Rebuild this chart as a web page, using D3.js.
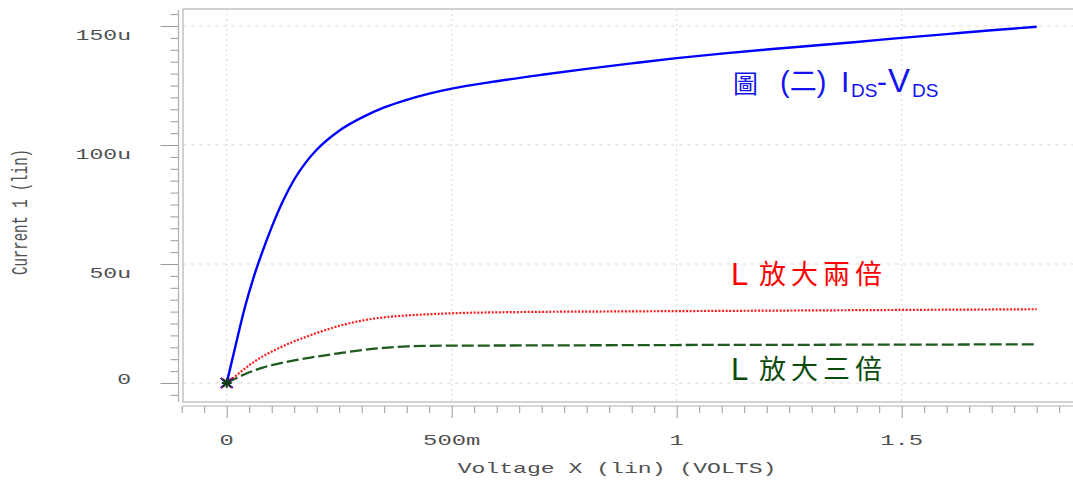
<!DOCTYPE html>
<html><head><meta charset="utf-8">
<script src="https://cdn.jsdelivr.net/npm/d3@7"></script>
<style>
html,body{margin:0;padding:0;background:#fff;}
svg{display:block;}
</style></head>
<body>
<svg id="chart" width="1073" height="482"></svg>
<script>
// ---- data ----
const voltage = [0, 0.02, 0.04, 0.06, 0.08, 0.1, 0.125, 0.15, 0.175, 0.2, 0.25, 0.3, 0.35, 0.4, 0.45, 0.5, 0.6, 0.7, 0.8, 0.9, 1.0, 1.1, 1.2, 1.3, 1.4, 1.5, 1.6, 1.7, 1.8];
const idsBase = [0, 16, 31.5, 44.5, 55.5, 65.5, 76.5, 85.5, 92.5, 98, 106, 111.5, 115.8, 119, 121.6, 123.7, 126.8, 129.5, 132, 134.3, 136.5, 138.4, 140.1, 141.7, 143.3, 145, 146.6, 148.2, 149.7];
const idsL2 = [0, 3, 6, 8.8, 11.2, 13.2, 15.5, 17.5, 19.3, 21, 24, 26.2, 27.6, 28.4, 28.9, 29.3, 29.7, 29.9, 30.0, 30.1, 30.2, 30.3, 30.4, 30.5, 30.6, 30.7, 30.8, 30.9, 31.0];
const idsL3 = [0, 1.9, 3.7, 5.2, 6.5, 7.5, 8.6, 9.5, 10.3, 11.1, 12.5, 13.8, 14.8, 15.4, 15.6, 15.7, 15.75, 15.8, 15.85, 15.9, 15.95, 16.0, 16.0, 16.05, 16.1, 16.1, 16.15, 16.2, 16.2];
const xTickValues = [0, 0.5, 1, 1.5];
const xTickLabels = ["0", "500m", "1", "1.5"];
const yTickValues = [0, 50, 100, 150];
const yTickLabels = ["0", "50u", "100u", "150u"];
const xTitle = "Voltage X (lin) (VOLTS)";
const yTitle = "Current 1 (lin)";

const svg = d3.select("#chart");
const x = d3.scaleLinear().domain([0, 1.8]).range([226.7, 1036.7]);
const y = d3.scaleLinear().domain([0, 150]).range([383, 26]);

const frameL = 183, frameT = 9, frameB = 402, frameR = 1080;
const monoFont = "'Liberation Mono', 'DejaVu Sans Mono', monospace";
const txtCol = "#505050";
const SX = 1.54;

// grid
const grid = svg.append("g");
grid.selectAll("line.v").data(xTickValues).join("line")
  .attr("x1", d => x(d)).attr("x2", d => x(d))
  .attr("y1", frameT).attr("y2", frameB)
  .attr("stroke", "#d8d8d8").attr("stroke-width", 1).attr("stroke-dasharray", "2,3");
grid.selectAll("line.h").data(yTickValues).join("line")
  .attr("x1", frameL).attr("x2", frameR)
  .attr("y1", d => y(d)).attr("y2", d => y(d))
  .attr("stroke", "#dcdcdc").attr("stroke-width", 1).attr("stroke-dasharray", "4,4");

// frame
svg.append("path")
  .attr("d", `M${frameR},${frameT}H${frameL}V${frameB}H${frameR}`)
  .attr("fill", "none").attr("stroke", "#c4c4c4").attr("stroke-width", 1.5);

// y axis with minor ticks
const yAxisX = 178.5;
const yAxis = d3.axisLeft(y).tickValues(d3.range(-5, 156, 5)).tickFormat("").tickSizeOuter(0)
  .tickSize(8);
const gy = svg.append("g").attr("transform", `translate(${yAxisX},0)`).call(yAxis);
gy.select(".domain").remove();
gy.selectAll(".tick line").attr("stroke", "#9a9a9a").attr("stroke-width", 1)
  .attr("x2", d => (d % 50 === 0 ? -18 : -8));
svg.append("line").attr("x1", yAxisX).attr("x2", yAxisX).attr("y1", 10).attr("y2", frameB)
  .attr("stroke", "#b0b0b0").attr("stroke-width", 1.2);

// x axis with minor ticks
const xAxisY = 406;
const xMinor = d3.range(-2, 39).map(i => i * 0.05);
const xAxis = d3.axisBottom(x).tickValues(xMinor).tickFormat("").tickSizeOuter(0).tickSize(7);
const gx = svg.append("g").attr("transform", `translate(0,${xAxisY})`).call(xAxis);
gx.select(".domain").remove();
gx.selectAll(".tick line").attr("stroke", "#9a9a9a").attr("stroke-width", 1)
  .attr("y2", d => (Math.abs(d * 2 - Math.round(d * 2)) < 1e-6 ? 12 : 7));
svg.append("line").attr("x1", frameL).attr("x2", frameR).attr("y1", xAxisY).attr("y2", xAxisY)
  .attr("stroke", "#b0b0b0").attr("stroke-width", 1.2);

// tick labels (monospace, horizontally stretched)
svg.selectAll("g.ylab").data(yTickValues).join("g")
  .attr("transform", (d) => `translate(131,${y(d) + (d === 0 ? 1 : 13.5)}) scale(${SX},1)`)
  .append("text")
  .attr("text-anchor", "end").attr("font-family", monoFont).attr("font-size", 15)
  .attr("fill", txtCol).text((d, i) => yTickLabels[i]);

svg.selectAll("g.xlab").data(xTickValues).join("g")
  .attr("transform", d => `translate(${x(d)},445) scale(${SX},1)`)
  .append("text")
  .attr("text-anchor", "middle").attr("font-family", monoFont).attr("font-size", 15.5)
  .attr("fill", txtCol).text((d, i) => xTickLabels[i]);

svg.append("g").attr("transform", `translate(617,473) scale(${SX},1)`)
  .append("text").attr("text-anchor", "middle").attr("font-family", monoFont)
  .attr("font-size", 15).attr("fill", txtCol).text(xTitle);

svg.append("g").attr("transform", `translate(27,212) scale(${SX},1) rotate(-90)`)
  .append("text").attr("text-anchor", "middle").attr("font-family", monoFont)
  .attr("font-size", 14).attr("fill", txtCol).text(yTitle);

// curves
const line = d3.line().x(d => x(d[0])).y(d => y(d[1])).curve(d3.curveMonotoneX);
const zip = arr => voltage.map((v, i) => [v, arr[i]]);
svg.append("path").datum(zip(idsL3)).attr("d", line)
  .attr("fill", "none").attr("stroke", "#1f5a1f").attr("stroke-width", 2.3)
  .attr("stroke-dasharray", "12,4");
svg.append("path").datum(zip(idsL2)).attr("d", line)
  .attr("fill", "none").attr("stroke", "#ff1a1a").attr("stroke-width", 2.2)
  .attr("stroke-dasharray", "2,1.6");
svg.append("path").datum(zip(idsBase)).attr("d", line)
  .attr("fill", "none").attr("stroke", "#0000ff").attr("stroke-width", 2.4);

// origin markers
const ox = x(voltage[0]);
const mk = svg.append("g");
const oyB = y(idsBase[0]), oyR = y(idsL2[0]), oyG = y(idsL3[0]);
mk.append("path").attr("d", `M${ox-6},${oyB-5}L${ox+6},${oyB+5}M${ox-6},${oyB+5}L${ox+6},${oyB-5}`)
  .attr("stroke", "#0000ff").attr("stroke-width", 2.2);
mk.append("path").attr("d", `M${ox-5},${oyR-5}L${ox+5},${oyR+5}M${ox-5},${oyR+5}L${ox+5},${oyR-5}`)
  .attr("stroke", "#ff2020").attr("stroke-width", 1.6).attr("stroke-dasharray", "1.5,1");
mk.append("path").attr("d", `M${ox-5},${oyG}L${ox+5},${oyG}M${ox},${oyG-5}L${ox},${oyG+5}M${ox-4},${oyG-4}L${ox+4},${oyG+4}M${ox-4},${oyG+4}L${ox+4},${oyG-4}`)
  .attr("stroke", "#143c14").attr("stroke-width", 1.8);

// annotations
const cjk = "'Noto Sans CJK TC', 'Noto Sans CJK SC', sans-serif";
const latin = "'Liberation Sans', Arial, sans-serif";
const blue = "#1212f0";
const t1 = svg.append("text").attr("fill", blue).attr("y", 92);
t1.append("tspan").attr("x", 733).attr("font-family", cjk).attr("font-size", 25).attr("dy", 1).text("圖");
t1.append("tspan").attr("x", 780).attr("font-family", latin).attr("font-size", 29).attr("dy", -1).text("(");
t1.append("tspan").attr("font-family", cjk).attr("font-size", 27).attr("dy", -1).text("二");
t1.append("tspan").attr("font-family", latin).attr("font-size", 29).attr("dy", 1).text(")");
t1.append("tspan").attr("x", 841).attr("font-family", latin).attr("font-size", 30).text("I");
t1.append("tspan").attr("x", 851).attr("font-family", latin).attr("font-size", 19).attr("dy", 5).text("DS");
t1.append("tspan").attr("x", 877).attr("font-family", latin).attr("font-size", 30).attr("dy", -5).text("-");
t1.append("tspan").attr("x", 888).attr("font-family", latin).attr("font-size", 33).text("V");
t1.append("tspan").attr("x", 912).attr("font-family", latin).attr("font-size", 19).attr("dy", 5).text("DS");

function label(yb, color, chars) {
  const t = svg.append("text").attr("fill", color).attr("y", yb);
  t.append("tspan").attr("x", 731).attr("font-family", latin).attr("font-size", 31).text("L");
  t.append("tspan").attr("x", 759).attr("font-family", cjk).attr("font-size", 27)
    .attr("letter-spacing", 5).attr("dy", -1).text(chars);
}
label(285, "#ff0000", "放大兩倍");
label(380, "#0b4a0b", "放大三倍");
</script>
</body></html>
